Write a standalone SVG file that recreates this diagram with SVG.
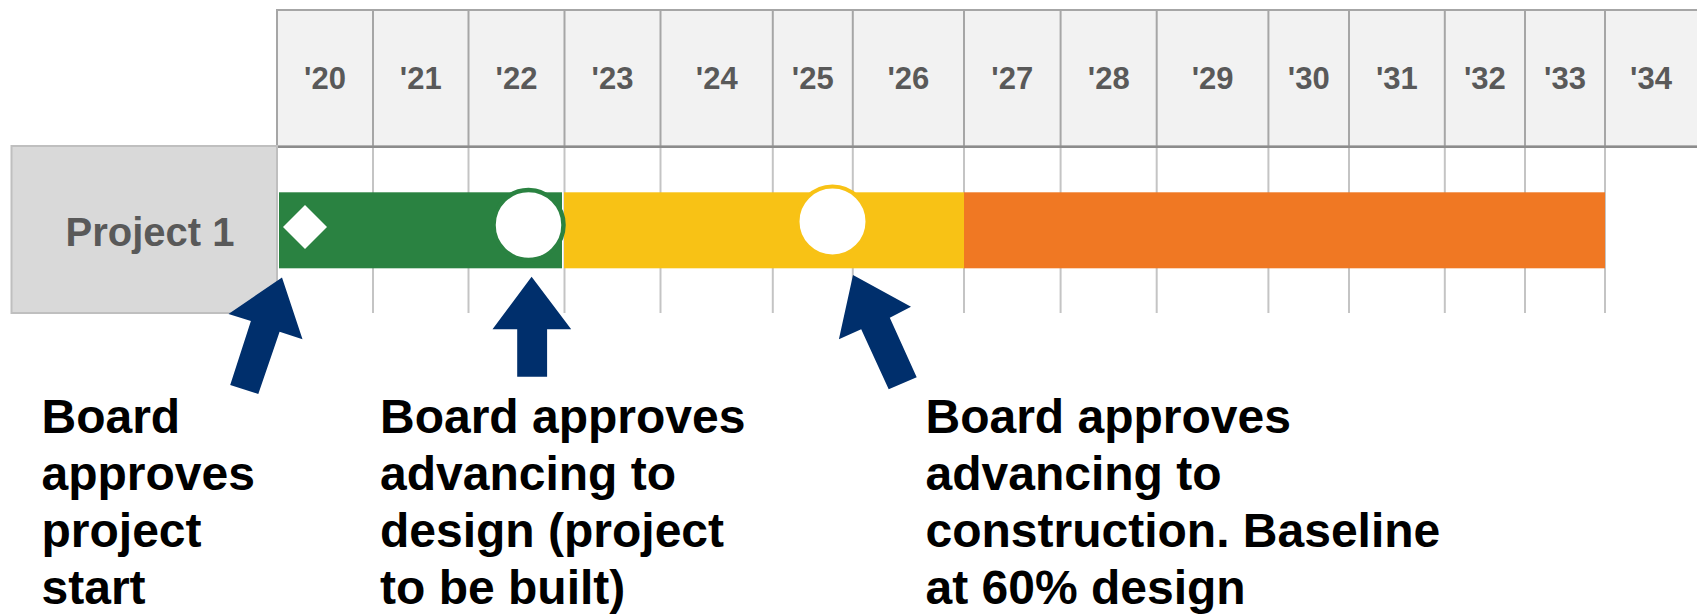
<svg xmlns="http://www.w3.org/2000/svg" width="1697" height="615" viewBox="0 0 1697 615">
<style>
.hdr{fill:#f2f2f2;stroke:#a6a6a6;stroke-width:2}
.hl{stroke:#a6a6a6;stroke-width:2}
.bl{stroke:#c4c4c4;stroke-width:2}
.yr{font-family:"Liberation Sans",Arial,sans-serif;font-weight:bold;font-size:31px;fill:#595959;text-anchor:middle}
.note{font-family:"Liberation Sans",Arial,sans-serif;font-weight:bold;font-size:48px;fill:#000}
.arrow{fill:#002f6c}
</style>
<rect width="1697" height="615" fill="#fff"/>
<g id="header">
<rect class="hdr" x="277" y="10" width="1422" height="136.7"/>
<g class="hl">
<line x1="373" y1="10" x2="373" y2="146.7"/><line x1="468.5" y1="10" x2="468.5" y2="146.7"/><line x1="564.5" y1="10" x2="564.5" y2="146.7"/><line x1="660.5" y1="10" x2="660.5" y2="146.7"/><line x1="772.8" y1="10" x2="772.8" y2="146.7"/><line x1="852.8" y1="10" x2="852.8" y2="146.7"/><line x1="964" y1="10" x2="964" y2="146.7"/><line x1="1060.6" y1="10" x2="1060.6" y2="146.7"/><line x1="1156.7" y1="10" x2="1156.7" y2="146.7"/><line x1="1268.4" y1="10" x2="1268.4" y2="146.7"/><line x1="1349" y1="10" x2="1349" y2="146.7"/><line x1="1444.8" y1="10" x2="1444.8" y2="146.7"/><line x1="1525" y1="10" x2="1525" y2="146.7"/><line x1="1605" y1="10" x2="1605" y2="146.7"/>
</g>
<line x1="277" y1="146.7" x2="1697" y2="146.7" stroke="#8c8c8c" stroke-width="2.5"/>
<text class="yr" x="325" y="89">'20</text><text class="yr" x="420.8" y="89">'21</text><text class="yr" x="516.5" y="89">'22</text><text class="yr" x="612.5" y="89">'23</text><text class="yr" x="716.7" y="89">'24</text><text class="yr" x="812.8" y="89">'25</text><text class="yr" x="908.4" y="89">'26</text><text class="yr" x="1012.3" y="89">'27</text><text class="yr" x="1108.7" y="89">'28</text><text class="yr" x="1212.6" y="89">'29</text><text class="yr" x="1308.7" y="89">'30</text><text class="yr" x="1396.9" y="89">'31</text><text class="yr" x="1484.9" y="89">'32</text><text class="yr" x="1565" y="89">'33</text><text class="yr" x="1651" y="89">'34</text>
</g>
<g id="grid" class="bl">
<line x1="373" y1="148" x2="373" y2="313"/><line x1="468.5" y1="148" x2="468.5" y2="313"/><line x1="564.5" y1="148" x2="564.5" y2="313"/><line x1="660.5" y1="148" x2="660.5" y2="313"/><line x1="772.8" y1="148" x2="772.8" y2="313"/><line x1="852.8" y1="148" x2="852.8" y2="313"/><line x1="964" y1="148" x2="964" y2="313"/><line x1="1060.6" y1="148" x2="1060.6" y2="313"/><line x1="1156.7" y1="148" x2="1156.7" y2="313"/><line x1="1268.4" y1="148" x2="1268.4" y2="313"/><line x1="1349" y1="148" x2="1349" y2="313"/><line x1="1444.8" y1="148" x2="1444.8" y2="313"/><line x1="1525" y1="148" x2="1525" y2="313"/><line x1="1605" y1="148" x2="1605" y2="313"/>
</g>
<g id="project-label">
<rect x="11.5" y="146" width="265.5" height="167" fill="#d9d9d9" stroke="#bfbfbf" stroke-width="2"/>
<text x="150" y="246" text-anchor="middle" font-family="'Liberation Sans',Arial,sans-serif" font-weight="bold" font-size="40" fill="#595959">Project 1</text>
</g>
<g id="bars">
<rect x="279" y="192.3" width="283" height="76" fill="#2a8241"/>
<rect x="564" y="192.3" width="400" height="76" fill="#f8c215"/>
<rect x="964" y="192.3" width="641" height="76" fill="#f07823"/>
</g>
<g id="milestones">
<polygon points="305,205 327,227 305,249 283,227" fill="#fff"/>
<circle cx="528.5" cy="225" r="35" fill="#fff" stroke="#2a8241" stroke-width="4.5"/>
<circle cx="832.5" cy="221.5" r="35" fill="#fff" stroke="#f8c215" stroke-width="4"/>
</g>
<g id="connectors">
<polygon class="arrow" points="282,277.5 302.5,339.3 279.6,331.7 258.3,394 230.2,385 250.9,321 228.5,314"/>
<polygon class="arrow" points="531.6,276.7 571.2,329.3 547.1,329.3 547.1,376.7 517.2,376.7 517.2,329.3 492.5,329.3"/>
<polygon class="arrow" points="853,275 911,306.7 889.8,317.7 916.7,377.3 888.7,389.3 861.2,329.3 838.9,339.3"/>
</g>
<g id="note-1">
<text class="note" x="41.5" y="432.7">Board</text>
<text class="note" x="41.5" y="490">approves</text>
<text class="note" x="41.5" y="547">project</text>
<text class="note" x="41.5" y="604">start</text>
</g>
<g id="note-2">
<text class="note" x="380" y="432.7">Board approves</text>
<text class="note" x="380" y="490">advancing to</text>
<text class="note" x="380" y="547">design (project</text>
<text class="note" x="380" y="604">to be built)</text>
</g>
<g id="note-3">
<text class="note" x="925.5" y="432.7">Board approves</text>
<text class="note" x="925.5" y="490">advancing to</text>
<text class="note" x="925.5" y="547">construction. Baseline</text>
<text class="note" x="925.5" y="604">at 60% design</text>
</g>
</svg>
